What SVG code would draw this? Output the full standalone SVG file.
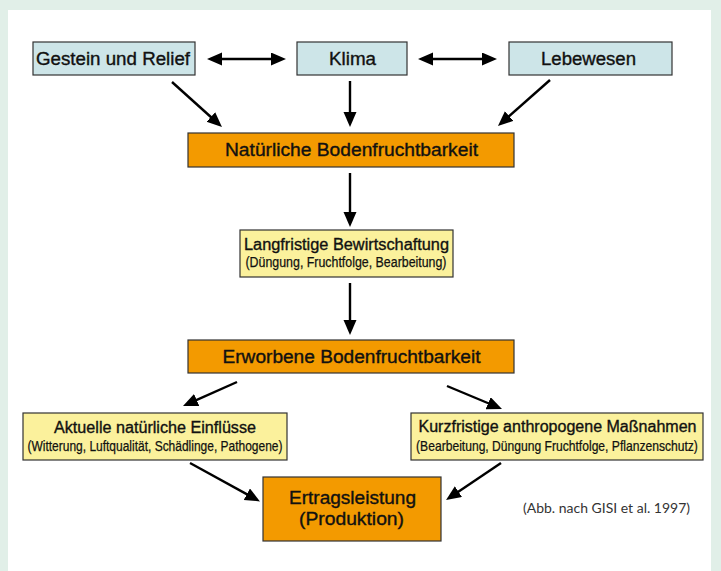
<svg xmlns="http://www.w3.org/2000/svg" width="721" height="571" viewBox="0 0 721 571">
<style>
.box{stroke:#333;stroke-width:1.2}
.blue{fill:#cde5e8}
.orange{fill:#f39a00}
.yellow{fill:#fbf19c}
.t{font-family:"Liberation Sans",Arial,sans-serif;fill:#111;stroke:#111;stroke-width:0.35}
.l{font-size:17.5px}
.s{font-size:14px;stroke-width:0.25}
.m{font-size:16px}
.c{font-family:Lato,"Open Sans",sans-serif;font-size:14px;fill:#333}
.a{stroke:#000;stroke-width:2.4;fill:none;marker-end:url(#ah)}
.d{stroke:#000;stroke-width:2.4;fill:none;marker-end:url(#ah);marker-start:url(#ah)}
</style>
<defs>
<marker id="ah" markerUnits="userSpaceOnUse" markerWidth="16" markerHeight="14" refX="6" refY="6.5" orient="auto-start-reverse">
<path d="M0,0 L15,6.5 L0,13 z" fill="#000"/>
</marker>
</defs>
<rect x="0" y="0" width="721" height="571" fill="#e1efe8"/>
<rect x="8" y="10" width="703" height="561" fill="#fff"/>

<g id="gestein"><rect class="box blue" x="33" y="42" width="162" height="33"/>
<text class="t l" x="113" y="65" text-anchor="middle" textLength="154" lengthAdjust="spacingAndGlyphs">Gestein und Relief</text></g>
<g id="klima"><rect class="box blue" x="297" y="42" width="110" height="33"/>
<text class="t l" x="352.5" y="65" text-anchor="middle" textLength="47" lengthAdjust="spacingAndGlyphs">Klima</text></g>
<g id="lebewesen"><rect class="box blue" x="509" y="42" width="163" height="33"/>
<text class="t l" x="588.5" y="65" text-anchor="middle" textLength="95" lengthAdjust="spacingAndGlyphs">Lebewesen</text></g>

<g id="natuerlich"><rect class="box orange" x="188" y="133" width="326" height="34"/>
<text class="t l" x="351.5" y="156" text-anchor="middle" textLength="253" lengthAdjust="spacingAndGlyphs">Natürliche Bodenfruchtbarkeit</text></g>

<g id="langfristig"><rect class="box yellow" x="240" y="230" width="213" height="47"/>
<text class="t m" x="346.5" y="250" text-anchor="middle" textLength="205" lengthAdjust="spacingAndGlyphs">Langfristige Bewirtschaftung</text>
<text class="t s" x="346" y="266.5" text-anchor="middle" textLength="201" lengthAdjust="spacingAndGlyphs">(Düngung, Fruchtfolge, Bearbeitung)</text></g>

<g id="erworben"><rect class="box orange" x="188" y="340" width="326" height="33"/>
<text class="t l" x="351.5" y="363" text-anchor="middle" textLength="258" lengthAdjust="spacingAndGlyphs">Erworbene Bodenfruchtbarkeit</text></g>

<g id="aktuell"><rect class="box yellow" x="23" y="413" width="264" height="47"/>
<text class="t m" x="155" y="432.5" text-anchor="middle" textLength="202" lengthAdjust="spacingAndGlyphs">Aktuelle natürliche Einflüsse</text>
<text class="t s" x="155" y="451" text-anchor="middle" textLength="255" lengthAdjust="spacingAndGlyphs">(Witterung, Luftqualität, Schädlinge, Pathogene)</text></g>

<g id="kurzfristig"><rect class="box yellow" x="411" y="413" width="292" height="47"/>
<text class="t m" x="557.5" y="431.5" text-anchor="middle" textLength="278" lengthAdjust="spacingAndGlyphs">Kurzfristige anthropogene Maßnahmen</text>
<text class="t s" transform="translate(557,450.5) scale(0.865,1)" x="0" y="0" text-anchor="middle">(Bearbeitung, Düngung Fruchtfolge, Pflanzenschutz)</text></g>

<g id="ertrag"><rect class="box orange" x="263" y="477" width="178" height="64"/>
<text class="t l" x="352.5" y="504" text-anchor="middle" textLength="127" lengthAdjust="spacingAndGlyphs">Ertragsleistung</text>
<text class="t l" x="351.5" y="525" text-anchor="middle" textLength="105" lengthAdjust="spacingAndGlyphs">(Produktion)</text></g>

<g id="caption"><text class="c" x="523" y="513" textLength="167" lengthAdjust="spacingAndGlyphs">(Abb. nach GISI et al. 1997)</text></g>

<g id="connectors">
<line class="d" x1="216" y1="59" x2="277" y2="59"/>
<line class="d" x1="427" y1="59" x2="488" y2="59"/>
<line class="a" x1="172" y1="82" x2="215.3" y2="121"/>
<line class="a" x1="350" y1="81" x2="350" y2="118"/>
<line class="a" x1="550" y1="80" x2="504.7" y2="120"/>
<line class="a" x1="350" y1="173" x2="350" y2="218"/>
<line class="a" x1="350" y1="283" x2="350" y2="326"/>
<line class="a" x1="237" y1="382" x2="191.2" y2="402.4"/>
<line class="a" x1="447" y1="386" x2="493.7" y2="405.5"/>
<line class="a" x1="190" y1="463" x2="252.1" y2="497.1"/>
<line class="a" x1="501" y1="463" x2="453.5" y2="495"/>
</g>
</svg>
